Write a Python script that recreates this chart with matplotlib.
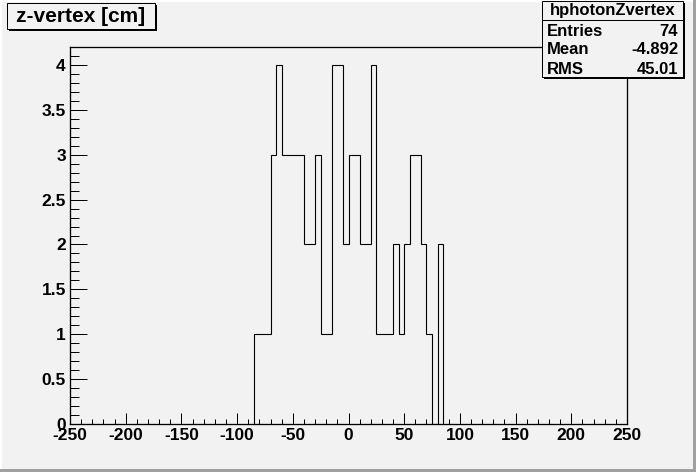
import matplotlib

matplotlib.use("Agg")
import matplotlib.pyplot as plt
import numpy as np
from matplotlib.patches import Rectangle
from matplotlib.ticker import MultipleLocator, FuncFormatter

# histogram hphotonZvertex, 5 cm bins, non-empty range starts at -85 cm
first_edge = -85
bin_width = 5
counts = [1, 1, 1, 3, 4, 3, 3, 3, 3, 2, 2, 3, 1, 1, 4, 4, 2,
          3, 3, 2, 2, 4, 1, 1, 1, 2, 1, 2, 3, 3, 2, 1, 0, 2]
x_range = (-250, 250)
y_max = 4.2

title = "z-vertex [cm]"
stats_name = "hphotonZvertex"
stats_rows = [("Entries", "74"), ("Mean", "-4.892"), ("RMS", "45.01")]

BG = "#f2f2f2"
W, H = 696, 472
PX = 0.72  # one pixel in points at dpi 100

plt.rcParams["font.family"] = ["Liberation Sans", "DejaVu Sans"]
plt.rcParams["font.weight"] = "bold"
plt.rcParams["axes.unicode_minus"] = False

fig = plt.figure(figsize=(W / 100, H / 100), dpi=100, facecolor=BG)

# frame: x 70..627, y 47..424 (pixels from top)
ax = fig.add_axes([70 / W, (H - 424) / H, 557 / W, 377 / H], facecolor=BG)
edges = first_edge + bin_width * np.arange(len(counts) + 1)
ax.stairs(counts, edges, baseline=0, color="black", lw=1.1 * PX)
ax.set_xlim(*x_range)
ax.set_ylim(0, y_max)

ax.xaxis.set_major_locator(MultipleLocator(50))
ax.xaxis.set_minor_locator(MultipleLocator(10))
ax.yaxis.set_major_locator(MultipleLocator(0.5))
ax.yaxis.set_minor_locator(MultipleLocator(0.1))
ax.xaxis.set_major_formatter(FuncFormatter(lambda v, _: f"{v:g}"))
ax.yaxis.set_major_formatter(FuncFormatter(lambda v, _: f"{v:g}"))
ax.tick_params(axis="x", which="major", direction="in", length=11 * PX,
               width=PX, pad=3, labelsize=12.5, top=False)
ax.tick_params(axis="x", which="minor", direction="in", length=5.5 * PX,
               width=PX, top=False)
ax.tick_params(axis="y", which="major", direction="in", length=17 * PX,
               width=PX, pad=3, labelsize=12.5, right=False)
ax.tick_params(axis="y", which="minor", direction="in", length=8.5 * PX,
               width=PX, right=False)
for lab in ax.get_xticklabels() + ax.get_yticklabels():
    lab.set_fontweight("bold")
for s in ax.spines.values():
    s.set_linewidth(1.3 * PX)

# overlay in pixel coordinates (y from top)
ov = fig.add_axes([0, 0, 1, 1], facecolor="none")
ov.set_xlim(0, W)
ov.set_ylim(H, 0)
ov.axis("off")

# canvas bevel
ov.add_patch(Rectangle((0, H - 3), W, 3, color="#a0a0a0", lw=0))
ov.add_patch(Rectangle((W - 3, 0), 3, H, color="#a0a0a0", lw=0))
ov.add_patch(Rectangle((0, 0), W - 3, 1.5, color="white", lw=0))
ov.add_patch(Rectangle((0, 0), 1.5, H - 3, color="white", lw=0))

# title box with shadow
ov.add_patch(Rectangle((9, 5), 148, 26, color="black", lw=0))
ov.add_patch(Rectangle((7, 3), 148, 26, facecolor=BG, edgecolor="black", lw=PX))
ov.text(81, 16.5, title, ha="center", va="center", fontsize=15, fontweight="bold")

# stats box with shadow
bx0, by0, bx1, by1 = 542, 1, 683, 77
ov.add_patch(Rectangle((bx0 + 2, by0 + 2), bx1 - bx0, by1 - by0, color="black", lw=0))
ov.add_patch(Rectangle((bx0, by0), bx1 - bx0, by1 - by0,
                       facecolor=BG, edgecolor="black", lw=PX))
ov.plot([bx0, bx1], [19.5, 19.5], color="black", lw=PX)
ov.text((bx0 + bx1) / 2, 10.5, stats_name, ha="center", va="center",
        fontsize=12, fontweight="bold")
for i, (name, val) in enumerate(stats_rows):
    yy = 31 + i * 19
    ov.text(bx0 + 5, yy, name, ha="left", va="center", fontsize=12, fontweight="bold")
    ov.text(bx1 - 5, yy, val, ha="right", va="center", fontsize=12, fontweight="bold")

fig.savefig("out.png", dpi=100, facecolor=BG)
